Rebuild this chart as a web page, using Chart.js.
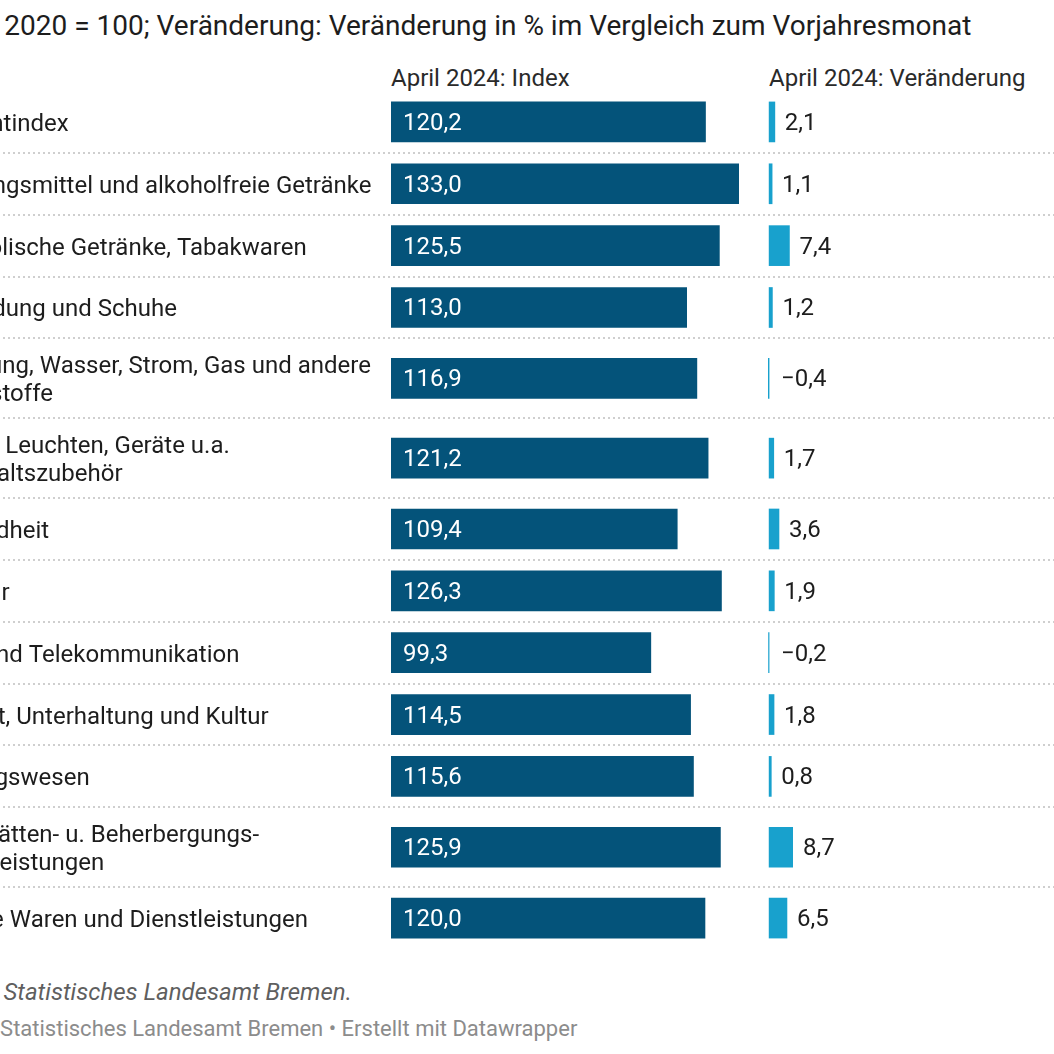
<!DOCTYPE html>
<html>
<head>
<meta charset="utf-8">
<script src="https://cdn.jsdelivr.net/npm/chart.js@4"></script>
<style>
  html, body { margin:0; padding:0; background:#fff; }
  body { width:1054px; height:1054px; overflow:hidden; position:relative; font-family: Roboto, "Noto Sans", sans-serif; color:#1d1d1d; }
  .abs { position:absolute; white-space:nowrap; }
  #title { left:-77px; top:6px; font-size:28px; line-height:40px; color:#1d1d1d; }
  .hdr { top:62px; font-size:24px; line-height:32px; color:#2a2a2a; }
  #wrapA { position:absolute; left:-72px; top:91px; width:1126px; height:858px; }
  #wrapB { position:absolute; left:740px; top:91px; width:314px; height:858px; }
  #note { left:-73px; top:976px; font-size:24px; line-height:32px; font-style:italic; color:#5f5f5f; }
  #src { left:-72px; top:1014px; font-size:22px; line-height:30px; color:#8c8c8c; }
</style>
</head>
<body>
<div id="title" class="abs">Index: 2020 = 100; Veränderung: Veränderung in % im Vergleich zum Vorjahresmonat</div>
<div class="abs hdr" style="left:391px">April 2024: Index</div>
<div class="abs hdr" style="left:769px">April 2024: Veränderung</div>
<div id="wrapA"><canvas id="cA"></canvas></div>
<div id="wrapB"><canvas id="cB"></canvas></div>
<div id="note" class="abs">Quelle: Statistisches Landesamt Bremen.</div>
<div id="src" class="abs">Quelle: Statistisches Landesamt Bremen • Erstellt mit Datawrapper</div>
<script>
// ---- data ----
const categories = [
  ["Gesamtindex"],
  ["Nahrungsmittel und alkoholfreie Getränke"],
  ["Alkoholische Getränke, Tabakwaren"],
  ["Bekleidung und Schuhe"],
  ["Wohnung, Wasser, Strom, Gas und andere", "Brennstoffe"],
  ["Möbel, Leuchten, Geräte u.a.", "Haushaltszubehör"],
  ["Gesundheit"],
  ["Verkehr"],
  ["Post und Telekommunikation"],
  ["Freizeit, Unterhaltung und Kultur"],
  ["Bildungswesen"],
  ["Gaststätten- u. Beherbergungs-", "dienstleistungen"],
  ["Andere Waren und Dienstleistungen"]
];
const indexValues  = [120.2, 133.0, 125.5, 113.0, 116.9, 121.2, 109.4, 126.3, 99.3, 114.5, 115.6, 125.9, 120.0];
const changeValues = [2.1, 1.1, 7.4, 1.2, -0.4, 1.7, 3.6, 1.9, -0.2, 1.8, 0.8, 8.7, 6.5];

// ---- style ----
const DARK = "#04537a";
const LIGHT = "#18a1cd";
const FONT = "Roboto, 'Noto Sans', sans-serif";
const fmt = v => (v < 0 ? "\u2212" : "") + Math.abs(v).toFixed(1).replace(".", ",");

// row sizes in relative units: one-line rows 1, two-line rows taller
const rowSize = categories.map(c => c.length > 1 ? 80/62 : 1);
const centers = [];
const bounds = [];
let acc = 0;
rowSize.forEach((s, i) => { centers.push(acc + s/2); acc += s; bounds.push(acc); });
const totalUnits = acc;

const yScale = { type: "linear", reverse: true, min: 0, max: totalUnits, offset: false, display: false };

// ---- Chart A: labels, separators, index bars ----
const plotA = {
  id: "plotA",
  beforeDatasetsDraw(chart) {
    const ctx = chart.ctx, y = chart.scales.y;
    ctx.save();
    ctx.strokeStyle = "#cfcfcf";
    ctx.lineWidth = 2;
    ctx.setLineDash([2, 3]);
    bounds.slice(0, -1).forEach(b => {
      const py = Math.round(y.getPixelForValue(b));
      ctx.beginPath(); ctx.moveTo(0, py); ctx.lineTo(chart.width, py); ctx.stroke();
    });
    ctx.restore();
  },
  afterDatasetsDraw(chart) {
    const ctx = chart.ctx, y = chart.scales.y, x = chart.scales.x;
    ctx.save();
    ctx.font = "24px " + FONT;
    ctx.textBaseline = "middle";
    categories.forEach((lines, i) => {
      const cy = y.getPixelForValue(centers[i]);
      const lh = 28;
      ctx.fillStyle = "#1d1d1d";
      ctx.textAlign = "left";
      lines.forEach((ln, k) => {
        ctx.fillText(ln, 0, cy + 3 + (k - (lines.length - 1)/2) * lh);
      });
      ctx.fillStyle = "#ffffff";
      ctx.fillText(fmt(indexValues[i]), x.getPixelForValue(0) + 12, cy + 2);
    });
    ctx.restore();
  }
};

new Chart(document.getElementById("cA"), {
  type: "bar",
  data: {
    datasets: [{
      data: indexValues.map((v, i) => ({ x: v, y: centers[i] })),
      backgroundColor: DARK,
      barThickness: 40,
      borderWidth: 0
    }]
  },
  options: {
    indexAxis: "y",
    responsive: true,
    maintainAspectRatio: false,
    animation: false,
    layout: { padding: { left: 463, right: 1126 - 463 - 348, top: 0, bottom: 0 } },
    scales: {
      x: { type: "linear", min: 0, max: Math.max(...indexValues), display: false },
      y: yScale
    },
    plugins: { legend: { display: false }, tooltip: { enabled: false } }
  },
  plugins: [plotA]
});

// ---- Chart B: change bars ----
const cMin = Math.min(0, ...changeValues), cMax = Math.max(...changeValues);
const plotB = {
  id: "plotB",
  afterDatasetsDraw(chart) {
    const ctx = chart.ctx, y = chart.scales.y, x = chart.scales.x;
    ctx.save();
    ctx.font = "24px " + FONT;
    ctx.textBaseline = "middle";
    ctx.textAlign = "left";
    ctx.fillStyle = "#1d1d1d";
    changeValues.forEach((v, i) => {
      const cy = y.getPixelForValue(centers[i]);
      const px = v >= 0 ? x.getPixelForValue(v) + 10 : x.getPixelForValue(0) + 12;
      ctx.fillText(fmt(v), px, cy + 2);
    });
    ctx.restore();
  }
};

new Chart(document.getElementById("cB"), {
  type: "bar",
  data: {
    datasets: [{
      data: changeValues.map((v, i) => ({ x: v, y: centers[i] })),
      backgroundColor: LIGHT,
      barThickness: 40,
      borderWidth: 0
    }]
  },
  options: {
    indexAxis: "y",
    responsive: true,
    maintainAspectRatio: false,
    animation: false,
    layout: { padding: { left: 28, right: 314 - 28 - 25, top: 0, bottom: 0 } },
    scales: {
      x: { type: "linear", min: cMin, max: cMax, display: false },
      y: yScale
    },
    plugins: { legend: { display: false }, tooltip: { enabled: false } }
  },
  plugins: [plotB]
});
</script>
</body>
</html>
